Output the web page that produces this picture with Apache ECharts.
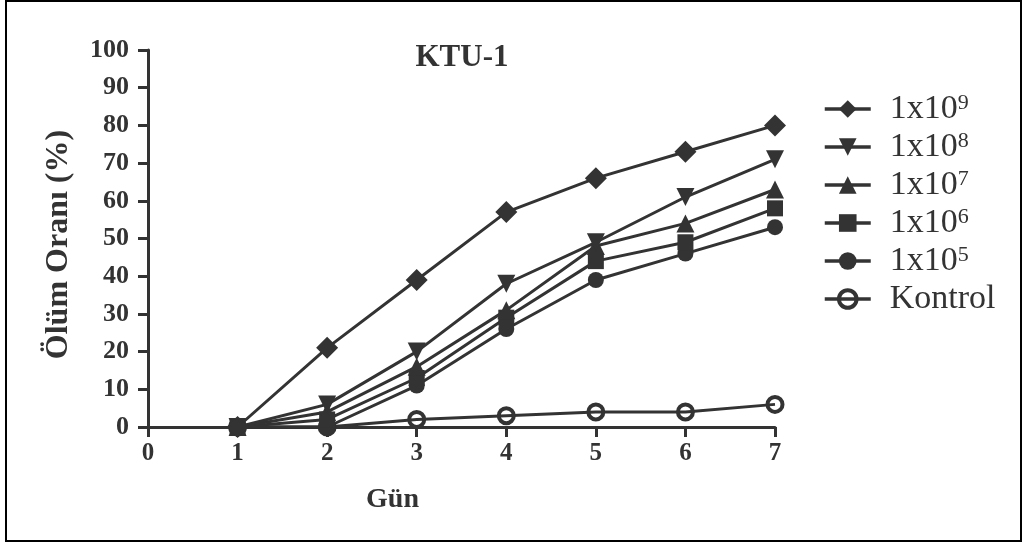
<!DOCTYPE html>
<html>
<head>
<meta charset="utf-8">
<script src="https://cdn.jsdelivr.net/npm/echarts@6/dist/echarts.min.js"></script>
<style>
  html, body { margin: 0; padding: 0; background: #fff; }
  #chart { width: 1022px; height: 546px; }
</style>
</head>
<body>
<div id="chart"></div>
<script>
// gün (x) ve ölüm oranı (%) değerleri
const days = [1, 2, 3, 4, 5, 6, 7];
const names = ['1x10^9', '1x10^8', '1x10^7', '1x10^6', '1x10^5', 'Kontrol'];
const d9 = [0, 21, 39, 57, 66, 73, 80];
const d8 = [0, 6, 20, 38, 49, 61, 71];
const d7 = [0, 4, 16, 31, 48, 54, 63];
const d6 = [0, 2, 13, 29, 44, 49, 58];
const d5 = [0, 0, 11, 26, 39, 46, 53];
const kontrol = [0, 0, 2, 3, 4, 4, 6];

const ink = '#333';
const font = 'Liberation Serif';

const symbols = [
  { symbol: 'diamond', size: 22, rotate: 0 },
  { symbol: 'triangle', size: 18, rotate: 180 },
  { symbol: 'triangle', size: 18, rotate: 0 },
  { symbol: 'rect', size: 16, rotate: 0 },
  { symbol: 'circle', size: 16, rotate: 0 },
  { symbol: 'circle', size: 15, rotate: 0 }
];
const values = [d9, d8, d7, d6, d5, kontrol];

let myChart = echarts.init(document.getElementById('chart'));

const series = names.map(function (n, i) {
  const open = n === 'Kontrol';
  return {
    name: n,
    type: 'line',
    data: days.map(function (d, j) { return [d, values[i][j]]; }),
    symbol: symbols[i].symbol,
    symbolSize: symbols[i].size,
    symbolRotate: symbols[i].rotate,
    showAllSymbol: true,
    z: 10 - i,
    lineStyle: { color: ink, width: 3 },
    itemStyle: open
      ? { color: 'rgba(0,0,0,0)', borderColor: ink, borderWidth: 4 }
      : { color: ink, borderWidth: 0 },
    emphasis: { disabled: true },
    animation: false
  };
});

const option = {
  backgroundColor: '#fff',
  animation: false,
  title: {
    text: 'KTU-1',
    left: 457,
    top: 37,
    textAlign: 'center',
    textStyle: { fontFamily: font, fontWeight: 'bold', fontSize: 31, color: ink }
  },
  grid: { left: 148, right: 247, top: 50, bottom: 119 },
  legend: {
    orient: 'vertical',
    left: 818,
    top: 87,
    itemWidth: 46,
    itemHeight: 22,
    itemGap: 4,
    data: names.map(function (n) {
      return n === 'Kontrol'
        ? { name: n, itemStyle: { color: 'rgba(0,0,0,0)', borderColor: ink, borderWidth: 4 } }
        : { name: n };
    }),
    lineStyle: { width: 3.5, color: ink },
    formatter: function (n) {
      return n.replace(/\^(\d+)/, '{s|$1}');
    },
    textStyle: {
      fontFamily: font,
      fontSize: 34,
      lineHeight: 34,
      color: ink,
      padding: [0, 0, 0, 14],
      rich: {
        s: { fontFamily: font, fontSize: 22, color: ink, verticalAlign: 'top', padding: [0, 0, 12, 0] }
      }
    }
  },
  xAxis: {
    type: 'value',
    min: 0,
    max: 7,
    interval: 1,
    name: 'Gün',
    nameLocation: 'middle',
    nameGap: 59,
    nameTextStyle: { fontFamily: font, fontWeight: 'bold', fontSize: 28, color: ink, padding: [0, 138, 0, 0] },
    axisLine: { onZero: false, lineStyle: { color: ink, width: 3 } },
    axisTick: { show: true, inside: false, length: 10, lineStyle: { color: ink, width: 3 } },
    axisLabel: { margin: 14, fontFamily: font, fontWeight: 'bold', fontSize: 25, color: ink },
    splitLine: { show: false }
  },
  yAxis: {
    type: 'value',
    min: 0,
    max: 100,
    interval: 10,
    name: 'Ölüm Oranı (%)',
    nameLocation: 'middle',
    nameGap: 73,
    nameRotate: 90,
    nameTextStyle: { fontFamily: font, fontWeight: 'bold', fontSize: 32, color: ink, padding: [0, 12, 0, 0] },
    axisLine: { show: true, lineStyle: { color: ink, width: 3 } },
    axisTick: { show: true, inside: false, length: 10, lineStyle: { color: ink, width: 3 } },
    axisLabel: { margin: 19, fontFamily: font, fontWeight: 'bold', fontSize: 26, color: ink },
    splitLine: { show: false }
  },
  graphic: [{
    type: 'rect',
    silent: true,
    shape: { x: 6, y: 1, width: 1015, height: 540 },
    style: { fill: 'none', stroke: '#000', lineWidth: 2 }
  }],
  series: series
};

myChart.setOption(option);
</script>
</body>
</html>
